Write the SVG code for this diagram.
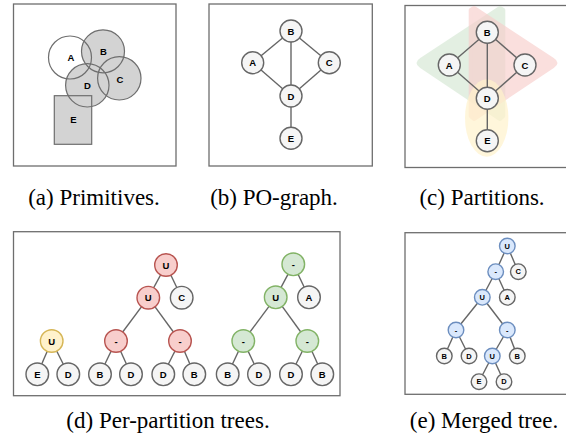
<svg xmlns="http://www.w3.org/2000/svg" width="566" height="440" viewBox="0 0 566 440">
<style>
.panel{fill:#fff;stroke:#6e6e6e;stroke-width:1.3}
.prim{stroke:#6e6e6e;stroke-width:1.2;fill:none}
.gfill{fill:#d3d3d3;stroke:none}
.n{fill:#f5f5f5;stroke:#666;stroke-width:1.4}
.r{fill:#f8cecc;stroke:#b85450;stroke-width:1.4}
.y{fill:#fff2cc;stroke:#d6b656;stroke-width:1.4}
.g{fill:#d5e8d4;stroke:#82b366;stroke-width:1.4}
.b{fill:#dae8fc;stroke:#6c8ebf;stroke-width:1.4}
.e{stroke:#666;stroke-width:1.4;fill:none}
.t{font-family:"Liberation Sans",Arial,sans-serif;font-weight:bold;font-size:9.5px;text-anchor:middle;dominant-baseline:central;fill:#000}
.ts{font-family:"Liberation Sans",Arial,sans-serif;font-weight:bold;font-size:7.5px;text-anchor:middle;dominant-baseline:central;fill:#000}
.pt{font-family:"Liberation Sans",Arial,sans-serif;font-weight:bold;font-size:9.5px;text-anchor:middle;dominant-baseline:central;fill:#000}
.cap{font-family:"Liberation Serif","Times New Roman",serif;font-size:23px;text-anchor:middle;fill:#000}
</style>

<!-- panel boxes -->
<rect class="panel" x="13.5" y="4" width="162.5" height="162"/>
<rect class="panel" x="209" y="4" width="163.3" height="162"/>
<rect class="panel" x="405" y="5.5" width="170" height="162"/>
<rect class="panel" x="13.5" y="231.7" width="326.5" height="164"/>
<rect class="panel" x="405" y="232.7" width="170" height="161.6"/>

<!-- (a) primitives -->
<g id="primitives">
  <circle cx="70" cy="57.5" r="21.5" fill="#fff"/>
  <circle class="gfill" cx="103" cy="51.3" r="21.5"/>
  <circle class="gfill" cx="119.3" cy="78.3" r="21.7"/>
  <circle class="gfill" cx="87.3" cy="85.3" r="21.7"/>
  <rect class="gfill" x="54.3" y="95.7" width="37.4" height="48.6"/>
  <circle class="prim" cx="70" cy="57.5" r="21.5"/>
  <circle class="prim" cx="103" cy="51.3" r="21.5"/>
  <circle class="prim" cx="119.3" cy="78.3" r="21.7"/>
  <circle class="prim" cx="87.3" cy="85.3" r="21.7"/>
  <rect class="prim" x="54.3" y="95.7" width="37.4" height="48.6"/>
  <text class="pt" x="71" y="57.5">A</text>
  <text class="pt" x="103.5" y="51.5">B</text>
  <text class="pt" x="120" y="79.5">C</text>
  <text class="pt" x="87.5" y="85">D</text>
  <text class="pt" x="73.5" y="119">E</text>
</g>

<!-- (c) partition regions -->
<g id="partitions">
  <path d="M500 8 L503.3 10 L503.3 116 L500 119 L421 66 Q416 63 421 60 Z" fill="#d5e8d4" opacity="0.65" stroke="#d5e8d4" stroke-width="4" stroke-linejoin="round"/>
  <path d="M474 8 L470.7 10 L470.7 116 L474 119 L553 66 Q558 63 553 60 Z" fill="#f8cecc" opacity="0.65" stroke="#f8cecc" stroke-width="4" stroke-linejoin="round"/>
  <ellipse cx="486.7" cy="118" rx="21.7" ry="38.7" fill="#fff2cc" opacity="0.7"/>
</g>

<g id="connectors">
  <!-- (b) -->
  <line class="e" x1="291" y1="31" x2="252.7" y2="62.7"/>
  <line class="e" x1="291" y1="31" x2="329.3" y2="62.7"/>
  <line class="e" x1="291" y1="31" x2="291" y2="96"/>
  <line class="e" x1="252.7" y1="62.7" x2="291" y2="96"/>
  <line class="e" x1="329.3" y1="62.7" x2="291" y2="96"/>
  <line class="e" x1="291" y1="96" x2="291" y2="138.3"/>
  <!-- (c) -->
  <line class="e" x1="487.3" y1="32.3" x2="449.3" y2="65"/>
  <line class="e" x1="487.3" y1="32.3" x2="525" y2="65"/>
  <line class="e" x1="487.3" y1="32.3" x2="487.3" y2="98.3"/>
  <line class="e" x1="449.3" y1="65" x2="487.3" y2="98.3"/>
  <line class="e" x1="525" y1="65" x2="487.3" y2="98.3"/>
  <line class="e" x1="487.3" y1="98.3" x2="487.3" y2="140.7"/>
  <!-- (d) yellow -->
  <line class="e" x1="51.7" y1="341" x2="37.3" y2="374.3"/>
  <line class="e" x1="51.7" y1="341" x2="68.3" y2="374.3"/>
  <!-- (d) red -->
  <line class="e" x1="166" y1="265" x2="148.3" y2="297.7"/>
  <line class="e" x1="166" y1="265" x2="181.7" y2="297.7"/>
  <line class="e" x1="148.3" y1="297.7" x2="116" y2="341"/>
  <line class="e" x1="148.3" y1="297.7" x2="180" y2="341"/>
  <line class="e" x1="116" y1="341" x2="100" y2="374.3"/>
  <line class="e" x1="116" y1="341" x2="131" y2="374.3"/>
  <line class="e" x1="180" y1="341" x2="163.3" y2="374.3"/>
  <line class="e" x1="180" y1="341" x2="194.3" y2="374.3"/>
  <!-- (d) green -->
  <line class="e" x1="293.3" y1="264.3" x2="275.7" y2="297.3"/>
  <line class="e" x1="293.3" y1="264.3" x2="309" y2="297.3"/>
  <line class="e" x1="275.7" y1="297.3" x2="243.3" y2="341"/>
  <line class="e" x1="275.7" y1="297.3" x2="307.3" y2="341"/>
  <line class="e" x1="243.3" y1="341" x2="227.7" y2="374.3"/>
  <line class="e" x1="243.3" y1="341" x2="259" y2="374.3"/>
  <line class="e" x1="307.3" y1="341" x2="291" y2="374.3"/>
  <line class="e" x1="307.3" y1="341" x2="322.3" y2="374.3"/>
  <!-- (e) -->
  <line class="e" x1="507.3" y1="246" x2="495.7" y2="271.7"/>
  <line class="e" x1="507.3" y1="246" x2="518.3" y2="271.7"/>
  <line class="e" x1="495.7" y1="271.7" x2="482.3" y2="297.3"/>
  <line class="e" x1="495.7" y1="271.7" x2="507.3" y2="297.3"/>
  <line class="e" x1="482.3" y1="297.3" x2="456" y2="330"/>
  <line class="e" x1="482.3" y1="297.3" x2="507.3" y2="330"/>
  <line class="e" x1="456" y1="330" x2="444.3" y2="356"/>
  <line class="e" x1="456" y1="330" x2="469" y2="356"/>
  <line class="e" x1="507.3" y1="330" x2="492.3" y2="356"/>
  <line class="e" x1="507.3" y1="330" x2="517.3" y2="356"/>
  <line class="e" x1="492.3" y1="356" x2="479" y2="381.7"/>
  <line class="e" x1="492.3" y1="356" x2="504" y2="381.7"/>
</g>

<!-- (b) nodes -->
<g id="b-B"><circle class="n" cx="291" cy="31" r="11"/><text class="t" x="291" y="31">B</text></g>
<g id="b-A"><circle class="n" cx="252.7" cy="62.7" r="11"/><text class="t" x="252.7" y="62.7">A</text></g>
<g id="b-C"><circle class="n" cx="329.3" cy="62.7" r="11"/><text class="t" x="329.3" y="62.7">C</text></g>
<g id="b-D"><circle class="n" cx="291" cy="96" r="11"/><text class="t" x="291" y="96">D</text></g>
<g id="b-E"><circle class="n" cx="291" cy="138.3" r="11"/><text class="t" x="291" y="138.3">E</text></g>

<!-- (c) nodes -->
<g id="c-B"><circle class="n" cx="487.3" cy="32.3" r="11"/><text class="t" x="487.3" y="32.3">B</text></g>
<g id="c-A"><circle class="n" cx="449.3" cy="65" r="11"/><text class="t" x="449.3" y="65">A</text></g>
<g id="c-C"><circle class="n" cx="525" cy="65" r="11"/><text class="t" x="525" y="65">C</text></g>
<g id="c-D"><circle class="n" cx="487.3" cy="98.3" r="11"/><text class="t" x="487.3" y="98.3">D</text></g>
<g id="c-E"><circle class="n" cx="487.3" cy="140.7" r="11"/><text class="t" x="487.3" y="140.7">E</text></g>

<!-- (d) yellow tree -->
<g id="dy-U"><circle class="y" cx="51.7" cy="341" r="11.3"/><text class="t" x="51.7" y="341">U</text></g>
<g id="dy-E"><circle class="n" cx="37.3" cy="374.3" r="11.3"/><text class="t" x="37.3" y="374.3">E</text></g>
<g id="dy-D"><circle class="n" cx="68.3" cy="374.3" r="11.3"/><text class="t" x="68.3" y="374.3">D</text></g>

<!-- (d) red tree -->
<g id="dr-U1"><circle class="r" cx="166" cy="265" r="11.3"/><text class="t" x="166" y="265">U</text></g>
<g id="dr-U2"><circle class="r" cx="148.3" cy="297.7" r="11.3"/><text class="t" x="148.3" y="297.7">U</text></g>
<g id="dr-C"><circle class="n" cx="181.7" cy="297.7" r="11.3"/><text class="t" x="181.7" y="297.7">C</text></g>
<g id="dr-M1"><circle class="r" cx="116" cy="341" r="11.3"/><text class="t" x="116" y="341">-</text></g>
<g id="dr-M2"><circle class="r" cx="180" cy="341" r="11.3"/><text class="t" x="180" y="341">-</text></g>
<g id="dr-B1"><circle class="n" cx="100" cy="374.3" r="11.3"/><text class="t" x="100" y="374.3">B</text></g>
<g id="dr-D1"><circle class="n" cx="131" cy="374.3" r="11.3"/><text class="t" x="131" y="374.3">D</text></g>
<g id="dr-D2"><circle class="n" cx="163.3" cy="374.3" r="11.3"/><text class="t" x="163.3" y="374.3">D</text></g>
<g id="dr-B2"><circle class="n" cx="194.3" cy="374.3" r="11.3"/><text class="t" x="194.3" y="374.3">B</text></g>

<!-- (d) green tree -->
<g id="dg-M0"><circle class="g" cx="293.3" cy="264.3" r="11.3"/><text class="t" x="293.3" y="264.3">-</text></g>
<g id="dg-U"><circle class="g" cx="275.7" cy="297.3" r="11.3"/><text class="t" x="275.7" y="297.3">U</text></g>
<g id="dg-A"><circle class="n" cx="309" cy="297.3" r="11.3"/><text class="t" x="309" y="297.3">A</text></g>
<g id="dg-M1"><circle class="g" cx="243.3" cy="341" r="11.3"/><text class="t" x="243.3" y="341">-</text></g>
<g id="dg-M2"><circle class="g" cx="307.3" cy="341" r="11.3"/><text class="t" x="307.3" y="341">-</text></g>
<g id="dg-B1"><circle class="n" cx="227.7" cy="374.3" r="11.3"/><text class="t" x="227.7" y="374.3">B</text></g>
<g id="dg-D1"><circle class="n" cx="259" cy="374.3" r="11.3"/><text class="t" x="259" y="374.3">D</text></g>
<g id="dg-D2"><circle class="n" cx="291" cy="374.3" r="11.3"/><text class="t" x="291" y="374.3">D</text></g>
<g id="dg-B2"><circle class="n" cx="322.3" cy="374.3" r="11.3"/><text class="t" x="322.3" y="374.3">B</text></g>

<!-- (e) merged tree -->
<g id="e-U0"><circle class="b" cx="507.3" cy="246" r="7.8"/><text class="ts" x="507.3" y="246">U</text></g>
<g id="e-M0"><circle class="b" cx="495.7" cy="271.7" r="7.8"/><text class="ts" x="495.7" y="271.7">-</text></g>
<g id="e-C"><circle class="n" cx="518.3" cy="271.7" r="7.8"/><text class="ts" x="518.3" y="271.7">C</text></g>
<g id="e-U1"><circle class="b" cx="482.3" cy="297.3" r="7.8"/><text class="ts" x="482.3" y="297.3">U</text></g>
<g id="e-A"><circle class="n" cx="507.3" cy="297.3" r="7.8"/><text class="ts" x="507.3" y="297.3">A</text></g>
<g id="e-M1"><circle class="b" cx="456" cy="330" r="7.8"/><text class="ts" x="456" y="330">-</text></g>
<g id="e-M2"><circle class="b" cx="507.3" cy="330" r="7.8"/><text class="ts" x="507.3" y="330">-</text></g>
<g id="e-B1"><circle class="n" cx="444.3" cy="356" r="7.8"/><text class="ts" x="444.3" y="356">B</text></g>
<g id="e-D1"><circle class="n" cx="469" cy="356" r="7.8"/><text class="ts" x="469" y="356">D</text></g>
<g id="e-U2"><circle class="b" cx="492.3" cy="356" r="7.8"/><text class="ts" x="492.3" y="356">U</text></g>
<g id="e-B2"><circle class="n" cx="517.3" cy="356" r="7.8"/><text class="ts" x="517.3" y="356">B</text></g>
<g id="e-E"><circle class="n" cx="479" cy="381.7" r="7.8"/><text class="ts" x="479" y="381.7">E</text></g>
<g id="e-D2"><circle class="n" cx="504" cy="381.7" r="7.8"/><text class="ts" x="504" y="381.7">D</text></g>

<!-- captions -->
<text class="cap" x="94" y="205">(a) Primitives.</text>
<text class="cap" x="274" y="205">(b) PO-graph.</text>
<text class="cap" x="482" y="205">(c) Partitions.</text>
<text class="cap" x="168" y="428">(d) Per-partition trees.</text>
<text class="cap" x="484" y="428">(e) Merged tree.</text>
</svg>
